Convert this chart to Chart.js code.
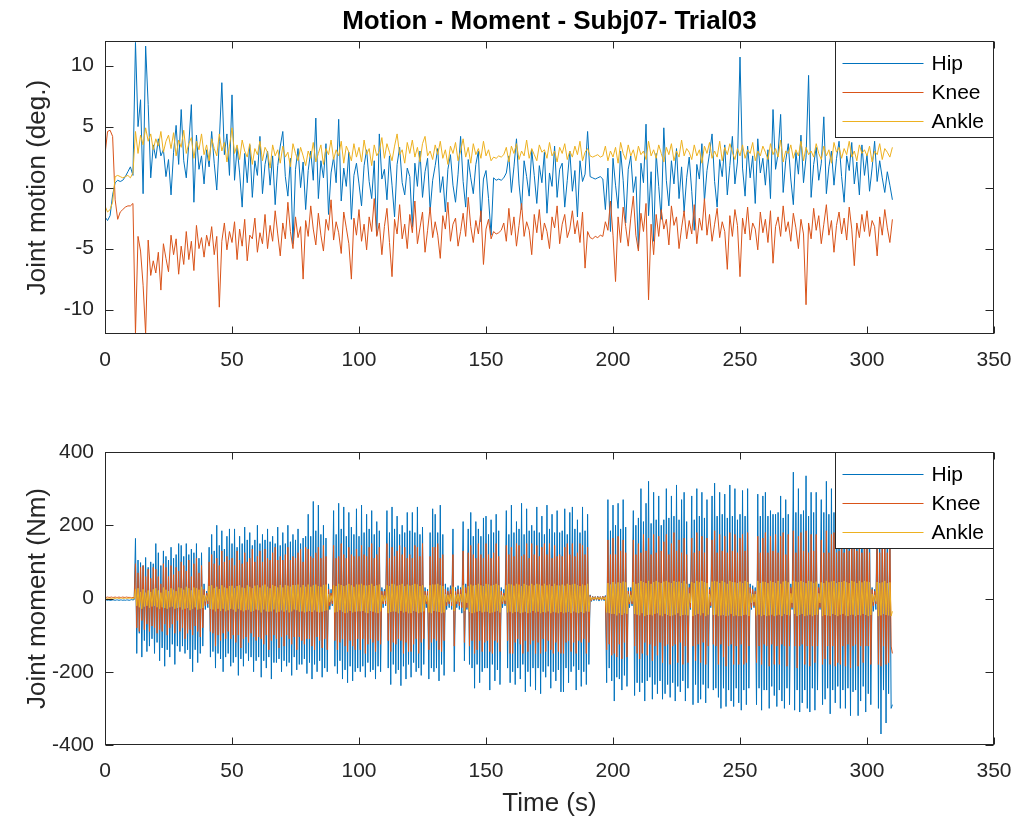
<!DOCTYPE html>
<html>
<head>
<meta charset="utf-8">
<script src="https://cdn.jsdelivr.net/npm/chart.js@4/dist/chart.umd.min.js"></script>
<style>
  body { margin: 0; background: #fff; }
  canvas { display: block; }
</style>
</head>
<body>
<canvas id="motion" width="1026" height="413"></canvas>
<canvas id="moment" width="1026" height="414"></canvas>
<script>
// motion: one sample per second, moment: two per second (t = 0 .. 310 s)
const motionStep = 1;
const momentStep = 0.5;
const timeTicks = [0, 50, 100, 150, 200, 250, 300, 350];
const motionTicks = [-10, -5, 0, 5, 10];
const momentTicks = [-400, -200, 0, 200, 400];
const seriesNames = ['Hip', 'Knee', 'Ankle'];

// Joint motion (deg.), one row = 10 s
const hipMotion = [
  -2.4, -2.7, -2.3, -0.6, 0.4, 0.6, 0.5, 0.6, 0.9, 1.3,
  1.7, 1.0, 11.9, 5.0, 7.2, -0.5, 11.6, 6.8, 0.8, 3.5,
  2.4, 4.0, 2.6, 3.1, 0.9, 2.3, -0.6, 2.9, 5.1, 1.9,
  6.4, 2.2, 0.8, 3.6, 6.8, -1.2, 4.3, 1.5, 2.6, 0.3,
  3.1, 1.7, 4.6, 2.0, -0.2, 3.8, 8.6, 2.7, 4.4, 1.0,
  7.6, 0.6, 3.3, 1.2, -1.6, 2.8, 0.4, 3.5, -0.8, 2.2,
  1.0, 4.2, -0.5, 1.9, 3.0, 0.2, 2.6, -1.4, 1.8, 3.4,
  4.6, 0.9, -0.7, 2.4, -4.6, 1.5, 3.2, 0.0, 2.1, -1.8,
  1.4, 3.0, 0.6, 5.7, -0.9, 2.2, 0.8, 3.6, -2.2, 1.2,
  2.5, 0.4, 5.6, -1.1, 1.6, 0.1, 2.9, -2.6, 1.0, 2.0,
  0.3, -1.5, 1.8, 3.1, 0.5, -0.9, 2.2, -3.9, 4.4, 0.7,
  1.5, -1.0, 2.6, 0.2, -2.4, 1.9, 3.3, 0.4, -0.6, 1.6,
  0.9, -3.2, 2.0, 0.1, 3.0, -0.8, 1.3, 2.4, -1.9, 0.6,
  1.8, 3.2, -0.4, 0.9, -2.0, 1.5, 2.7, 0.2, -1.2, 1.1,
  4.2, 0.5, -1.6, 2.3, 0.8, -0.5, 1.9, 3.0, -2.8, 0.7,
  1.4, -0.9, -3.9, 0.8, 0.6, 0.7, 0.6, 0.8, 1.2, 2.6,
  -0.4, 1.7, 4.0, 0.3, -1.8, 2.2, 0.9, -0.7, 3.1, 1.0,
  -1.3, 1.8, 0.4, 2.9, -2.1, 1.2, 0.1, 3.4, -0.8, 1.5,
  2.0, -1.6, 0.6, 3.0, -0.3, 1.4, -2.4, 2.2, 0.5, 1.1,
  4.6, 0.9, 0.8, 0.7, 0.8, 0.9, 0.7, -1.8, 1.6, -3.6,
  2.4, 0.2, -1.7, 3.0, 0.6, -2.9, 1.5, 2.6, -0.4, 0.9,
  -5.0, 2.0, 0.4, 5.2, -2.3, 1.3, -4.4, 2.8, 0.1, -2.6,
  4.9, 0.6, -1.5, 2.2, 0.3, 3.2, -0.9, 1.7, -2.0, 0.8,
  2.5, -0.3, -3.5, 1.9, 0.7, 3.6, -1.1, 1.4, 2.8, 4.4,
  0.5, -1.6, 2.3, 0.9, 3.5, -0.6, 1.8, 4.2, 0.3, 2.1,
  10.7, 1.6, -0.7, 3.4, 0.8, 2.6, -1.3, 4.0, 1.2, 2.4,
  0.2, 3.1, -0.9, 6.4, 1.5, 2.8, 6.0, -0.4, 2.2, 3.6,
  0.7, -1.4, 2.9, 1.1, 4.3, 0.4, 2.5, 9.2, -0.8, 1.9,
  3.3, 0.6, 2.0, 5.8, -0.5, 1.7, 3.0, 0.2, 2.4, 3.8,
  0.9, -1.2, 2.6, 1.4, 3.7, 0.3, 2.1, -0.6, 3.5, 1.0,
  2.7, -0.3, 1.6, 3.8, 0.5, 2.2, 0.8, -0.4, 1.3, 0.2,
  -1.0
];
const kneeMotion = [
  2.7, 4.6, 4.7, 4.2, -1.0, -2.6, -2.0, -1.8, -1.6, -1.5,
  -1.5, -1.3, -12.0, -4.0, -5.2, -8.0, -12.0, -4.3, -7.2, -6.0,
  -7.0, -5.3, -8.4, -4.6, -5.8, -6.9, -3.9, -5.5, -4.2, -7.1,
  -4.8, -6.3, -3.6, -5.9, -4.4, -6.8, -3.1, -5.0, -4.1, -5.7,
  -3.9, -4.8, -3.2, -5.5, -4.0, -9.8, -4.4, -2.9, -5.1, -3.6,
  -4.5, -2.8, -5.9, -3.4, -4.8, -2.6, -6.0, -3.9, -4.2, -2.5,
  -5.3, -3.7, -4.6, -2.2, -5.0, -3.1, -4.4, -1.9, -3.8, -5.6,
  -2.9, -4.2, -1.2, -3.6, -5.0, -2.4, -4.1, -3.2, -7.5, -2.7,
  -4.0, -1.5, -3.4, -4.7, -2.1, -3.9, -5.2, -2.6, -3.5, -1.0,
  -4.3, -2.8, -3.7, -5.4, -2.0, -3.3, -4.6, -7.5, -2.5, -3.9,
  -1.8, -4.4, -3.0, -5.1, -2.4, -3.6, -0.9, -4.0, -2.9, -5.5,
  -3.2, -1.7, -4.5, -7.3, -2.6, -3.8, -1.4, -4.2, -3.0, -5.0,
  -2.2, -3.7, -1.1, -4.6, -3.3, -2.0, -5.3, -3.5, -1.6, -4.1,
  -2.8, -3.9, -5.8, -2.3, -3.4, -1.2, -4.4, -3.0, -2.5, -4.8,
  -3.6, -2.1, -4.0, -0.8, -3.2, -4.5, -2.7, -3.8, -1.9, -6.3,
  -3.4, -2.6, -4.2, -3.6, -3.8, -3.7, -3.5, -2.9, -4.4, -1.7,
  -3.9, -2.4, -4.8, -3.1, -1.3, -4.0, -2.8, -3.5, -5.5, -2.2,
  -3.7, -1.8, -4.3, -2.9, -3.6, -5.0, -2.4, -3.3, -1.5, -4.6,
  -3.0, -2.2, -4.1, -3.4, -1.9, -3.8, -2.7, -4.5, -2.0, -6.6,
  -3.6, -4.1, -4.2, -4.0, -4.1, -3.9, -4.0, -2.8, -3.5, -1.1,
  -3.9, -7.7, -2.4, -4.5, -1.6, -3.2, -4.8, -2.5, -0.7, -3.9,
  -5.2, -2.1, -3.6, -1.3, -9.2, -3.0, -5.5, -2.2, -4.0, -1.8,
  -3.4, -2.6, -4.7, -1.5, -3.1, -2.4, -5.0, -3.3, -1.9, -4.2,
  -2.7, -3.8, -1.4, -4.6, -2.5, -3.5, -0.9, -3.9, -2.2, -4.4,
  -3.0, -1.7, -4.1, -2.8, -3.6, -6.7, -2.3, -4.0, -1.8, -3.1,
  -7.3, -2.5, -3.8, -1.6, -4.3, -2.9, -3.4, -5.1, -2.0, -3.7,
  -2.6, -4.5, -1.9, -6.2, -3.2, -2.4, -4.0, -1.5, -3.6, -2.8,
  -4.4, -2.1, -3.3, -5.0, -2.6, -3.8, -9.6, -2.9, -4.2, -1.7,
  -3.5, -2.3, -4.6, -3.0, -1.4, -3.9, -2.7, -5.3, -3.1, -2.0,
  -3.8, -2.5, -4.3, -1.6, -3.4, -6.4, -2.9, -4.1, -2.2, -3.6,
  -1.9, -4.0, -2.7, -3.2, -5.6, -2.4, -3.9, -1.8, -3.3, -4.5,
  -2.6
];
const ankleMotion = [
  -1.5, -2.0, -1.8, -1.2, 0.9, 1.0, 0.9, 0.8, 0.9, 1.0,
  0.8, 1.2, 4.6, 2.8, 4.3, 3.5, 4.9, 3.8, 4.4, 3.1,
  4.0, 3.4, 4.6, 2.9, 3.8, 4.3, 3.2, 4.5, 2.6, 3.9,
  3.3, 4.7, 2.8, 3.6, 4.1, 2.4, 3.8, 3.1, 4.4, 2.7,
  3.5, 2.2, 4.0, 3.2, 2.6, 4.4, 3.0, 3.7, 2.1, 3.4,
  4.9, 2.8, 3.5, 2.3, 3.9, 3.0, 2.5, 3.6, 1.9, 3.2,
  2.7, 3.8, 2.2, 3.3, 2.9, 1.6, 3.5, 2.6, 3.1, 2.0,
  3.4, 2.5, 2.9, 1.7, 3.6, 2.8, 2.2, 3.3, 2.6, 1.8,
  3.0, 2.4, 3.7, 2.1, 2.8, 3.5, 1.9, 3.2, 2.7, 3.9,
  2.3, 3.1, 2.6, 3.8, 2.0, 3.4, 2.9, 2.2, 3.6, 2.5,
  3.3, 2.1, 3.9, 2.7, 3.2, 1.8, 3.5, 2.6, 3.0, 4.1,
  2.4, 3.6, 2.9, 2.2, 3.4, 4.4, 2.7, 3.1, 2.0, 3.7,
  2.8, 3.9, 2.5, 3.3, 2.1, 3.6, 4.2, 2.6, 3.0, 2.3,
  3.5, 2.7, 3.8, 2.4, 3.1, 1.9, 3.4, 2.8, 3.7, 2.2,
  3.0, 4.0, 2.5, 3.3, 2.0, 3.6, 2.7, 3.2, 2.4, 3.8,
  2.6, 3.1, 2.2, 2.5, 2.4, 2.6, 2.5, 2.7, 3.3, 2.1,
  3.4, 2.8, 3.6, 2.3, 3.0, 2.6, 3.9, 2.4, 3.2, 2.7,
  2.2, 3.5, 2.9, 3.1, 2.4, 3.7, 2.6, 3.0, 2.1, 3.3,
  2.8, 3.6, 2.3, 3.0, 2.5, 3.4, 2.7, 3.8, 2.2, 2.9,
  3.2, 2.6, 2.5, 2.6, 2.7, 2.5, 2.6, 3.4, 2.2, 3.0,
  2.5, 3.3, 2.0, 3.7, 2.8, 2.3, 3.5, 2.6, 3.1, 2.2,
  3.4, 2.7, 3.0, 2.3, 3.8, 2.6, 3.1, 2.4, 3.5, 2.8,
  2.1, 3.3, 2.7, 3.6, 2.2, 3.0, 2.5, 3.9, 2.6, 3.2,
  2.9, 2.3, 3.5, 2.6, 3.1, 2.0, 3.4, 2.8, 3.7, 2.4,
  3.0, 2.5, 3.8, 2.2, 3.3, 2.7, 3.6, 2.9, 2.3, 3.2,
  2.6, 3.5, 2.4, 3.1, 2.8, 3.7, 2.2, 3.0, 2.6, 3.4,
  2.9, 2.3, 3.6, 2.7, 3.2, 2.5, 3.9, 2.1, 3.0, 2.8,
  3.5, 2.4, 3.1, 2.6, 3.8, 2.2, 3.3, 2.7, 3.0, 2.5,
  3.6, 2.8, 2.3, 3.4, 2.6, 3.1, 2.0, 3.7, 2.9, 3.3,
  2.4, 3.2, 2.7, 3.8, 2.5, 3.0, 2.2, 3.5, 2.8, 3.1,
  2.6, 3.4, 2.1, 3.0, 2.7, 3.6, 2.3, 3.2, 2.9, 2.5,
  3.3
];

// Joint moment (Nm), one row = 10 s
const hipMoment = [
  -4, -4, -5, -4, -5, -5, -4, -4, -5, -4, -4, -5, -4, -4, -5, -4, -5, -4, -4, -5,
  -4, -3, -4, -3, 164, -150, 105, -95, 98, -160, 90, -115, 112, -145, 85, -130, 100, -110, 95, -150,
  150, -120, 125, -170, 90, -135, 130, -185, 115, -140, 105, -160, 140, -125, 110, -180, 120, -130, 150, -145,
  145, -130, 115, -150, 150, -140, 120, -165, 135, -200, 125, -140, 150, -175, 110, -150, 125, -130, 40, -30,
  20, -25, 140, -160, 175, -145, 130, -190, 200, -150, 145, -165, 185, -200, 135, -160, 170, -150, 190, -185,
  150, -175, 190, -160, 140, -210, 170, -165, 150, -185, 195, -150, 160, -170, 180, -160, 145, -200, 160, -170,
  200, -160, 150, -215, 175, -170, 160, -190, 190, -160, 155, -220, 170, -175, 150, -175, 195, -165, 145, -200,
  180, -170, 150, -185, 200, -175, 155, -210, 175, -160, 160, -195, 190, -180, 150, -180, 165, -165, 170, -205,
  230, -175, 170, -220, 265, -180, 185, -200, 255, -170, 175, -215, 200, -190, 165, -200, 40, -30, 25, -20,
  240, -185, 175, -205, 260, -170, 190, -220, 250, -195, 170, -230, 235, -185, 195, -225, 175, -200, 245, -190,
  170, -200, 255, -185, 180, -215, 230, -175, 190, -200, 240, -195, 175, -220, 210, -185, 185, -200, 30, -25,
  25, -20, 240, -190, 180, -235, 250, -180, 190, -205, 225, -195, 175, -238, 200, -185, 180, -220, 235, -180,
  185, -215, 235, -175, 180, -200, 250, -190, 175, -210, 195, -180, 30, -25, 25, -220, 180, -190, 245, -200,
  230, -190, 180, -225, 255, -180, 175, -210, 40, -30, 30, -25, 35, -30, 190, -200, 30, -25, 35, -30,
  30, -40, 210, -170, 40, -30, 190, -180, 235, -190, 170, -245, 210, -180, 190, -230, 170, -200, 220, -190,
  225, -190, 175, -250, 215, -180, 180, -225, 230, -195, 185, -235, 30, -25, 25, -20, 240, -190, 175, -230,
  255, -200, 180, -235, 210, -190, 190, -220, 260, -180, 175, -255, 245, -200, 185, -240, 200, -190, 185, -250,
  250, -190, 180, -260, 225, -200, 175, -215, 255, -185, 190, -245, 230, -200, 180, -225, 240, -195, 180, -255,
  185, -255, 245, -190, 175, -230, 235, -200, 250, -185, 190, -250, 215, -195, 180, -240, 250, -200, 185, -235,
  230, -180, 10, -8, 6, -6, 5, -5, 6, -7, 5, -5, 6, -6, 8, -230, 270, -190, 185, -225,
  255, -280, 200, -215, 260, -220, 190, -250, 270, -210, 195, -240, 30, -25, 30, -20, 240, -265, 200, -230,
  220, -255, 300, -230, 210, -280, 260, -225, 320, -215, 205, -275, 290, -235, 215, -260, 280, -225, 200, -275,
  215, -260, 300, -235, 220, -270, 280, -230, 225, -280, 310, -240, 215, -255, 270, -225, 290, -280, 210, -245,
  40, -30, 280, -290, 215, -235, 300, -285, 225, -275, 290, -235, 220, -285, 270, -245, 30, -25, 280, -250,
  315, -245, 225, -270, 290, -300, 230, -245, 285, -295, 220, -250, 310, -280, 225, -295, 300, -245, 215, -285,
  230, -305, 295, -250, 225, -290, 300, -245, 40, -30, 35, -25, 30, -290, 285, -245, 225, -305, 280, -250,
  290, -250, 225, -300, 240, -240, 230, -265, 230, -295, 235, -250, 280, -280, 220, -300, 270, -245, 230, -290,
  40, -30, 345, -305, 235, -250, 300, -310, 230, -285, 240, -250, 335, -300, 225, -310, 290, -245, 235, -305,
  290, -250, 40, -30, 270, -290, 235, -275, 320, -245, 230, -315, 300, -250, 235, -285, 310, -240, 225, -300,
  300, -250, 230, -300, 280, -245, 240, -320, 290, -255, 225, -250, 310, -320, 240, -280, 295, -240, 230, -310,
  295, -260, 225, -290, 30, -35, 25, -30, 260, -300, 235, -370, 250, -250, 230, -340, 240, -260, 215, -300,
  -290
];
const kneeMoment = [
  3, 3, 4, 3, 3, 4, 3, 3, 4, 3, 3, 4, 3, 3, 4, 3, 3, 4, 3, 3,
  3, 2, 3, 2, 95, -80, 70, -90, 85, -60, 90, -85, 60, -70, 80, -90, 55, -75, 85, -80,
  80, -95, 60, -85, 40, -90, 95, -70, 85, -100, 60, -80, 90, -70, 65, -95, 85, -60, 75, -90,
  100, -80, 90, -110, 75, -95, 105, -85, 60, -100, 95, -75, 110, -90, 70, -105, 90, -80, 25, -20,
  15, -15, 100, -90, 120, -95, 95, -130, 110, -100, 90, -115, 130, -95, 100, -110, 115, -90, 105, -110,
  110, -100, 90, -120, 130, -100, 105, -135, 95, -110, 125, -105, 100, -120, 110, -95, 135, -105, 100, -115,
  115, -105, 130, -110, 100, -125, 135, -100, 110, -140, 105, -115, 125, -100, 140, -110, 105, -135, 115, -105,
  105, -130, 120, -100, 140, -110, 105, -125, 115, -105, 110, -140, 125, -105, 135, -115, 100, -125, 140, -110,
  135, -110, 115, -130, 110, -140, 125, -105, 140, -115, 110, -135, 145, -110, 115, -140, 25, -20, 15, -15,
  145, -115, 110, -140, 115, -120, 150, -110, 120, -130, 110, -145, 140, -115, 120, -130, 115, -140, 135, -110,
  115, -140, 145, -110, 120, -150, 115, -125, 140, -110, 150, -120, 110, -145, 120, -115, 140, -125, 20, -15,
  20, -15, 150, -115, 110, -145, 140, -120, 115, -125, 130, -110, 145, -115, 120, -150, 140, -120, 110, -145,
  120, -145, 110, -125, 145, -110, 140, -150, 115, -120, 150, -110, 20, -15, 20, -140, 115, -120, 140, -110,
  140, -115, 150, -140, 110, -145, 120, -115, 25, -20, 20, -15, 25, -20, 120, -130, 20, -15, 25, -20,
  25, -25, 130, -120, 30, -25, 125, -130, 145, -115, 120, -150, 110, -140, 150, -115, 120, -145, 110, -120,
  150, -115, 120, -145, 110, -150, 125, -115, 150, -120, 115, -145, 20, -15, 15, -15, 145, -115, 120, -150,
  140, -150, 115, -120, 150, -110, 145, -125, 115, -150, 120, -115, 150, -145, 110, -125, 150, -115, 120, -150,
  145, -120, 115, -150, 140, -110, 150, -145, 120, -115, 150, -140, 110, -150, 145, -120, 115, -145, 120, -150,
  115, -150, 140, -120, 150, -115, 120, -145, 150, -120, 115, -150, 125, -115, 150, -120, 145, -110, 120, -150,
  140, -120, 8, -6, 5, -4, 5, -3, 5, -4, 5, -3, 6, -4, 6, -140, 160, -125, 120, -155,
  165, -150, 120, -160, 170, -125, 130, -165, 160, -120, 125, -160, 20, -15, 20, -15, 160, -130, 120, -150,
  150, -165, 125, -150, 175, -120, 130, -155, 165, -125, 120, -170, 175, -130, 125, -155, 170, -120, 130, -175,
  155, -130, 175, -125, 120, -180, 150, -130, 180, -125, 130, -175, 160, -120, 125, -180, 165, -130, 120, -175,
  30, -25, 165, -130, 125, -170, 180, -125, 130, -175, 170, -120, 125, -180, 165, -130, 25, -20, 160, -125,
  185, -130, 125, -180, 175, -125, 130, -160, 170, -185, 125, -130, 180, -125, 130, -180, 175, -130, 125, -180,
  165, -125, 175, -180, 130, -175, 180, -130, 30, -25, 25, -20, 20, -175, 170, -130, 125, -180, 165, -125,
  180, -130, 125, -185, 170, -125, 130, -180, 175, -130, 125, -180, 170, -125, 180, -130, 120, -185, 175, -130,
  30, -25, 185, -130, 125, -190, 170, -130, 180, -125, 130, -180, 185, -130, 125, -185, 175, -130, 130, -175,
  175, -130, 30, -25, 160, -180, 125, -165, 185, -130, 125, -180, 175, -130, 180, -185, 125, -175, 130, -180,
  180, -130, 125, -185, 175, -125, 130, -190, 165, -130, 180, -125, 130, -185, 165, -130, 125, -175, 180, -130,
  170, -130, 125, -180, 25, -20, 20, -15, 160, -180, 125, -185, 165, -130, 175, -180, 125, -175, 170, -130,
  -150
];
const ankleMoment = [
  1, 1, 0, 1, 1, 0, 1, 1, 0, 1, 1, 0, 1, 1, 0, 1, 1, 0, 1, 1,
  1, 0, 1, 0, 25, -20, 28, -24, 18, -28, 25, -22, 16, -20, 22, -25, 18, -22, 25, -20,
  28, -24, 22, -28, 16, -24, 30, -26, 24, -28, 20, -24, 28, -22, 24, -28, 20, -26, 30, -24,
  28, -30, 24, -28, 32, -26, 28, -32, 22, -28, 30, -24, 28, -30, 24, -28, 32, -26, 10, -8,
  8, -6, 34, -28, 36, -30, 28, -35, 32, -28, 26, -34, 36, -28, 30, -35, 28, -32, 34, -28,
  35, -30, 28, -36, 34, -28, 36, -32, 30, -35, 28, -32, 36, -30, 32, -36, 28, -34, 35, -30,
  36, -32, 30, -38, 35, -30, 38, -35, 32, -36, 28, -35, 37, -30, 34, -38, 30, -36, 37, -32,
  30, -36, 37, -32, 35, -38, 32, -35, 37, -30, 36, -32, 38, -36, 30, -35, 37, -38, 32, -36,
  38, -34, 32, -37, 36, -32, 38, -36, 34, -38, 32, -36, 37, -34, 38, -32, 12, -10, 8, -6,
  36, -38, 34, -36, 40, -32, 37, -36, 34, -40, 36, -38, 40, -34, 36, -38, 32, -36, 38, -35,
  38, -35, 40, -34, 36, -38, 35, -40, 37, -34, 40, -36, 34, -38, 36, -40, 38, -35, 10, -8,
  8, -6, 36, -40, 34, -37, 40, -35, 38, -36, 35, -40, 37, -34, 40, -38, 34, -36, 38, -40,
  35, -40, 37, -34, 40, -36, 38, -40, 34, -38, 36, -35, 10, -8, 8, -38, 36, -40, 38, -34,
  38, -35, 40, -37, 36, -40, 34, -38, 12, -10, 10, -8, 12, -10, 32, -34, 10, -8, 12, -10,
  12, -10, 36, -34, 14, -12, 34, -36, 38, -40, 35, -38, 37, -36, 40, -34, 36, -38, 34, -36,
  40, -36, 38, -40, 35, -38, 37, -36, 40, -34, 36, -38, 10, -8, 8, -6, 36, -38, 40, -36,
  38, -40, 35, -37, 40, -36, 38, -40, 34, -38, 40, -36, 37, -40, 35, -38, 40, -34, 36, -38,
  40, -36, 38, -40, 35, -37, 40, -38, 36, -35, 38, -40, 34, -36, 40, -38, 36, -40, 35, -37,
  38, -40, 35, -38, 40, -36, 37, -40, 38, -35, 40, -38, 36, -40, 34, -37, 38, -40, 36, -35,
  40, -36, 4, -3, 3, -2, 3, -2, 3, -2, 3, -2, 3, -2, 4, -38, 42, -40, 38, -42,
  45, -42, 40, -46, 44, -40, 42, -45, 46, -40, 44, -42, 12, -10, 10, -8, 45, -42, 40, -44,
  42, -46, 48, -40, 45, -48, 42, -45, 48, -44, 40, -46, 45, -42, 48, -40, 44, -46, 42, -48,
  46, -42, 48, -45, 44, -48, 42, -46, 48, -44, 45, -40, 46, -48, 42, -45, 48, -44, 40, -46,
  14, -12, 45, -48, 42, -45, 48, -42, 44, -46, 48, -40, 45, -48, 42, -44, 12, -10, 46, -45,
  48, -44, 46, -48, 42, -46, 48, -45, 44, -48, 40, -46, 48, -42, 45, -48, 44, -46, 42, -48,
  46, -48, 42, -45, 48, -44, 45, -48, 14, -12, 12, -10, 12, -46, 48, -44, 42, -48, 46, -45,
  45, -48, 42, -46, 48, -44, 45, -48, 42, -46, 48, -44, 40, -48, 46, -42, 48, -45, 44, -46,
  14, -12, 48, -42, 46, -48, 44, -45, 48, -42, 45, -48, 42, -46, 48, -44, 46, -48, 42, -45,
  46, -44, 14, -12, 44, -48, 42, -45, 48, -46, 44, -48, 46, -42, 48, -45, 42, -48, 45, -44,
  45, -42, 48, -46, 44, -48, 42, -45, 48, -44, 46, -48, 42, -45, 48, -46, 44, -42, 48, -45,
  46, -48, 44, -45, 12, -10, 10, -8, 45, -48, 42, -46, 44, -42, 48, -45, 42, -46, 44, -48,
  -35
];

const colors = ['#0072BD', '#D95319', '#EDB120'];
const FONT = "'Liberation Sans', Arial, Helvetica, sans-serif";
const axisColor = '#262626';

function toPoints(values, step) {
  return values.map((v, i) => ({ x: i * step, y: v }));
}

function makeDatasets(seriesList, step) {
  // hip drawn first, ankle on top (as in the original plot)
  return seriesList.map((vals, i) => ({
    label: seriesNames[i],
    data: toPoints(vals, step),
    borderColor: colors[i],
    borderWidth: 1,
    pointRadius: 0,
    fill: false,
    order: seriesList.length - i
  }));
}

// box, inward tick marks and the legend box in the corner
const matlabAxes = {
  id: 'matlabAxes',
  afterDraw(chart) {
    const { ctx, chartArea: a, scales } = chart;
    const L = Math.round(a.left) + 0.5, R = Math.round(a.right) - 0.5;
    const T = Math.round(a.top) + 0.5, B = Math.round(a.bottom) - 0.5;
    ctx.save();
    ctx.strokeStyle = axisColor;
    ctx.lineWidth = 1;
    ctx.beginPath();
    scales.x.ticks.forEach(t => {
      const px = Math.round(scales.x.getPixelForValue(t.value)) + 0.5;
      ctx.moveTo(px, B); ctx.lineTo(px, B - 7);
      ctx.moveTo(px, T); ctx.lineTo(px, T + 7);
    });
    scales.y.ticks.forEach(t => {
      const py = Math.round(scales.y.getPixelForValue(t.value)) + 0.5;
      ctx.moveTo(L, py); ctx.lineTo(L + 8, py);
      ctx.moveTo(R, py); ctx.lineTo(R - 8, py);
    });
    ctx.stroke();
    ctx.strokeRect(L, T, R - L, B - T);

    // legend
    const w = 158, h = 96;
    const lx = R - w, ly = T;
    ctx.fillStyle = '#fff';
    ctx.fillRect(lx, ly, w, h);
    ctx.strokeStyle = axisColor;
    ctx.strokeRect(lx, ly, w, h);
    ctx.font = '21px ' + FONT;
    ctx.textBaseline = 'middle';
    chart.data.datasets.forEach((ds, i) => {
      const y = Math.round(ly + 21 + 29 * i) + 0.5;
      ctx.strokeStyle = ds.borderColor;
      ctx.beginPath();
      ctx.moveTo(lx + 7, y);
      ctx.lineTo(lx + 88, y);
      ctx.stroke();
      ctx.fillStyle = '#000';
      ctx.fillText(ds.label, lx + 96, y + 1);
    });
    ctx.restore();
  }
};

function makeOptions(cfg) {
  return {
    responsive: false,
    animation: false,
    layout: { padding: { left: 0, right: 32, top: cfg.padTop, bottom: 0 } },
    plugins: {
      legend: { display: false },
      tooltip: { enabled: false },
      title: cfg.title ? {
        display: true,
        text: cfg.title,
        fullSize: false,
        color: '#000',
        font: { family: FONT, size: 26, weight: 'bold' },
        padding: { top: 6, bottom: 4 }
      } : { display: false }
    },
    scales: {
      x: {
        type: 'linear',
        min: 0,
        max: 350,
        grid: { display: false, drawTicks: false },
        border: { display: false },
        afterBuildTicks: s => { s.ticks = timeTicks.map(v => ({ value: v })); },
        afterFit: s => { s.height = cfg.xHeight; },
        ticks: { color: axisColor, font: { family: FONT, size: 21 }, padding: 14, maxRotation: 0, autoSkip: false },
        title: cfg.xTitle ? {
          display: true,
          text: cfg.xTitle,
          color: axisColor,
          font: { family: FONT, size: 26 },
          padding: { top: 0, bottom: 8 }
        } : { display: false }
      },
      y: {
        min: cfg.yMin,
        max: cfg.yMax,
        grid: { display: false, drawTicks: false },
        border: { display: false },
        afterBuildTicks: s => { s.ticks = cfg.yTicks.map(v => ({ value: v })); },
        afterFit: s => { s.width = 105; },
        ticks: { color: axisColor, font: { family: FONT, size: 21 }, padding: 11, autoSkip: false },
        title: {
          display: true,
          text: cfg.yTitle,
          color: axisColor,
          font: { family: FONT, size: 26 },
          padding: { top: 22, bottom: 0 }
        }
      }
    }
  };
}

const motionChart = new Chart(document.getElementById('motion'), {
  type: 'line',
  data: { datasets: makeDatasets([hipMotion, kneeMotion, ankleMotion], motionStep) },
  options: makeOptions({
    padTop: 0,
    title: 'Motion - Moment - Subj07- Trial03',
    xHeight: 79,
    yMin: -12, yMax: 12,
    yTicks: motionTicks,
    yTitle: 'Joint motion (deg.)'
  }),
  plugins: [matlabAxes]
});

const momentChart = new Chart(document.getElementById('moment'), {
  type: 'line',
  data: { datasets: makeDatasets([hipMoment, kneeMoment, ankleMoment], momentStep) },
  options: makeOptions({
    padTop: 39,
    xHeight: 82,
    xTitle: 'Time (s)',
    yMin: -400, yMax: 400,
    yTicks: momentTicks,
    yTitle: 'Joint moment (Nm)'
  }),
  plugins: [matlabAxes]
});
</script>
</body>
</html>
